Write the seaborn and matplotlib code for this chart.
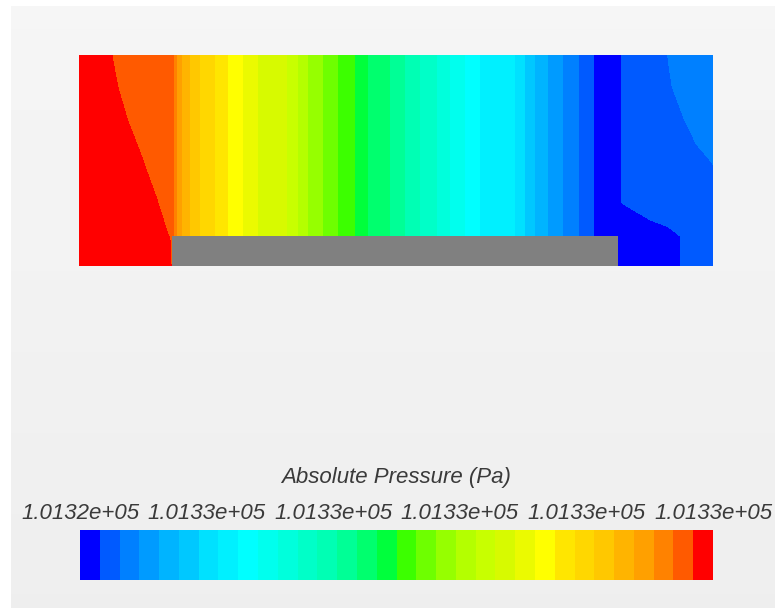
import numpy as np
import matplotlib
matplotlib.use("Agg")
import matplotlib.pyplot as plt
from matplotlib.colors import ListedColormap, BoundaryNorm
from matplotlib.patches import Rectangle
from matplotlib import font_manager
import seaborn as sns

# ---------------------------------------------------------------------------
# Legend range (Pa) and colour bands
# ---------------------------------------------------------------------------
P_MIN = 101324.90
P_MAX = 101325.54
N_BANDS = 32
N_LABELS = 6
LEGEND_TITLE = "Absolute Pressure (Pa)"

# blue -> cyan -> green -> yellow -> red, one colour per band
band_colors = [
    "#0000ff", "#005aff", "#0080ff", "#009bff", "#00b4ff", "#00c8ff",
    "#00e1ff", "#00f0ff", "#00ffff", "#00ffee", "#00ffdc", "#00ffc8",
    "#00ffb4", "#00ff96", "#00ff6e", "#00ff3c", "#3cff00", "#6eff00",
    "#96ff00", "#b4ff00", "#c8ff00", "#d7fa00", "#ebfa00", "#ffff00",
    "#ffe600", "#ffd700", "#ffc800", "#ffb400", "#ffa000", "#ff8200",
    "#ff5a00", "#ff0000",
]

# ---------------------------------------------------------------------------
# Channel geometry (mm)
# ---------------------------------------------------------------------------
CHANNEL_LENGTH = 300.0
CHANNEL_HEIGHT = 100.0
BLOCK_X0, BLOCK_X1 = 44.0, 255.0
BLOCK_HEIGHT = 14.0

# sampling rows, height above the floor (mm)
row_y = [0, 14, 30, 50, 70, 85, 100]

# inlet zone: stations (mm) and pressure per row (Pa)
inlet_x = [0.0, 16.0, 23.0, 30.0, 37.0, 43.0]
inlet_p = [
    [101325.532, 101325.532, 101325.532, 101325.532, 101325.532, 101325.532],
    [101325.532, 101325.530, 101325.528, 101325.528, 101325.524, 101325.5196],
    [101325.532, 101325.530, 101325.528, 101325.524, 101325.5204, 101325.512],
    [101325.532, 101325.528, 101325.524, 101325.5202, 101325.514, 101325.506],
    [101325.532, 101325.524, 101325.5198, 101325.516, 101325.512, 101325.506],
    [101325.532, 101325.521, 101325.518, 101325.515, 101325.511, 101325.505],
    [101325.532, 101325.5198, 101325.517, 101325.514, 101325.510, 101325.504],
]

# core of the channel: isobars are straight across the height
isobar_x = [44.5, 46.4, 48.7, 52.5, 57.3, 64.4, 70.5, 77.6, 84.7, 98.4,
            103.6, 108.4, 115.5, 122.6, 130.6, 136.8, 147.2, 154.3, 161.4, 169.4,
            175.6, 182.7, 189.8, 206.3, 211.1, 215.8, 222.0, 229.1, 236.2, 243.3]
isobar_p = [101325.50, 101325.48, 101325.46, 101325.44, 101325.42, 101325.40,
            101325.38, 101325.36, 101325.34, 101325.32, 101325.30, 101325.28,
            101325.26, 101325.24, 101325.22, 101325.20, 101325.18, 101325.16,
            101325.14, 101325.12, 101325.10, 101325.08, 101325.06, 101325.04,
            101325.02, 101325.00, 101324.98, 101324.96, 101324.94, 101324.92]

# outlet zone: stations (mm) and pressure per row (Pa)
outlet_x = [249.9, 257.0, 270.0, 278.8, 284.4, 292.0, 300.0]
outlet_p = [
    [101324.906, 101324.910, 101324.912, 101324.916, 101324.9198, 101324.926, 101324.930],
    [101324.906, 101324.908, 101324.912, 101324.916, 101324.9198, 101324.926, 101324.930],
    [101324.906, 101324.9202, 101324.928, 101324.930, 101324.932, 101324.934, 101324.936],
    [101324.906, 101324.9202, 101324.928, 101324.932, 101324.935, 101324.938, 101324.9404],
    [101324.906, 101324.9202, 101324.930, 101324.936, 101324.939, 101324.943, 101324.947],
    [101324.906, 101324.9202, 101324.932, 101324.939, 101324.942, 101324.946, 101324.950],
    [101324.906, 101324.9202, 101324.932, 101324.9402, 101324.944, 101324.948, 101324.952],
]

# ---------------------------------------------------------------------------
# Style
# ---------------------------------------------------------------------------
sns.set_style("white")
available = {f.name for f in font_manager.fontManager.ttflist}
if "Liberation Sans Narrow" in available:
    label_family, label_size = ["Liberation Sans Narrow", "DejaVu Sans"], 19
else:
    label_family, label_size = ["Liberation Sans", "DejaVu Sans"], 16
plt.rcParams["font.family"] = label_family
TEXT_COLOR = "#3a3a3a"

W, H = 775, 608
fig = plt.figure(figsize=(W / 100, H / 100), dpi=100, facecolor="white")

def fig_rect(x0, y0, x1, y1):
    """Pixel box (top-left origin) -> figure fraction rect."""
    return [x0 / W, 1 - y1 / H, (x1 - x0) / W, (y1 - y0) / H]

# soft grey backdrop with a faint vertical shading
bg = fig.add_axes(fig_rect(11, 6, W, H))
shade = np.linspace(0.962, 0.933, 200).reshape(-1, 1)
bg.imshow(shade, cmap="gray", vmin=0, vmax=1, aspect="auto",
          extent=[0, 1, 0, 1], interpolation="bilinear")
bg.set_axis_off()

cmap = ListedColormap(band_colors)
levels = np.linspace(P_MIN, P_MAX, N_BANDS + 1)
norm = BoundaryNorm(levels, N_BANDS)

# ---------------------------------------------------------------------------
# Pressure field in the channel
# ---------------------------------------------------------------------------
grid_x = np.array(inlet_x + isobar_x + outlet_x)
grid_y = np.array(row_y, dtype=float)
field = np.array([inlet_p[r] + isobar_p + outlet_p[r]
                  for r in range(len(row_y))])

ax = fig.add_axes(fig_rect(79, 55, 713, 266))
ax.contourf(grid_x, grid_y, field, levels=levels, cmap=cmap, norm=norm,
            antialiased=False)
ax.add_patch(Rectangle((BLOCK_X0, 0), BLOCK_X1 - BLOCK_X0, BLOCK_HEIGHT,
                       facecolor="#808080", edgecolor="none", zorder=3))
ax.set_xlim(0, CHANNEL_LENGTH)
ax.set_ylim(0, CHANNEL_HEIGHT)
ax.set_axis_off()

# ---------------------------------------------------------------------------
# Legend bar
# ---------------------------------------------------------------------------
band_centers = 0.5 * (levels[:-1] + levels[1:])
cax = fig.add_axes(fig_rect(80, 530, 713, 580))
sns.heatmap(band_centers.reshape(1, -1), ax=cax, cmap=cmap,
            vmin=P_MIN, vmax=P_MAX, cbar=False,
            xticklabels=False, yticklabels=False)
label_vals = np.linspace(P_MIN, P_MAX, N_LABELS)
cax.xaxis.tick_top()
cax.set_xticks(np.linspace(0, N_BANDS, N_LABELS))
cax.set_xticklabels([f"{v:.4e}" for v in label_vals], style="italic",
                    family=label_family, fontsize=label_size, color=TEXT_COLOR)
cax.tick_params(axis="x", length=0, pad=4)
for s in cax.spines.values():
    s.set_visible(False)

fig.text(396.5 / W, 1 - 477 / H, LEGEND_TITLE, ha="center", va="center",
         style="italic", family=label_family, fontsize=label_size,
         color=TEXT_COLOR)

fig.savefig("out.png", dpi=100, facecolor="white")
